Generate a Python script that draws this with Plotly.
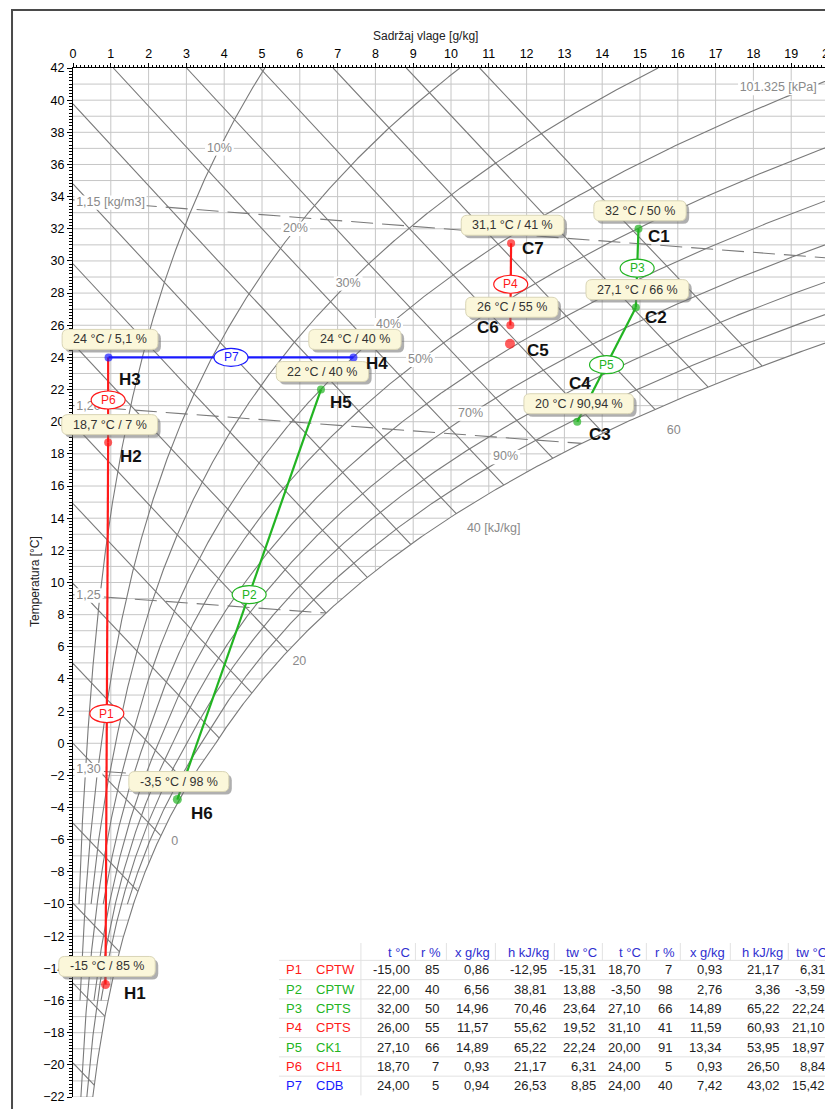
import numpy as np
import plotly.graph_objects as go

# ============================ DATA ============================
pressure_kpa = 101.325
x_range = [0, 20]          # moisture content g/kg
t_range = [-22, 42]        # temperature °C

rh_levels = [10, 20, 30, 40, 50, 60, 70, 80, 90, 100]
rh_lowest_temp = [-10, -16, -10, -22, -10, -16, -22, -16, -10, -22]
rh_label_levels = [10, 20, 30, 40, 50, 70, 90]
rh_label_temps = [37.0, 32.0, 28.6, 26.0, 23.85, 20.5, 17.8]

h_levels = list(range(-20, 75, 5))
h_label_levels = [0, 20, 40, 60]
h_label_texts = ["0", "20", "40 [kJ/kg]", "60"]

rho_levels = [1.15, 1.20, 1.25, 1.30]
rho_label_texts = ["1,15 [kg/m3]", "1,20", "1,25", "1,30"]

pressure_label = "101.325 [kPa]"

proc_names = ["P1", "P2", "P3", "P4", "P5", "P6", "P7"]
proc_types = ["CPTW", "CPTW", "CPTS", "CPTS", "CK1", "CH1", "CDB"]
t_start = [-15.00, 22.00, 32.00, 26.00, 27.10, 18.70, 24.00]
r_start = [85, 40, 50, 55, 66, 7, 5]
x_start = [0.86, 6.56, 14.96, 11.57, 14.89, 0.93, 0.94]
h_start = [-12.95, 38.81, 70.46, 55.62, 65.22, 21.17, 26.53]
tw_start = [-15.31, 13.88, 23.64, 19.52, 22.24, 6.31, 8.85]
t_end = [18.70, -3.50, 27.10, 31.10, 20.00, 24.00, 24.00]
r_end = [7, 98, 66, 41, 91, 5, 40]
x_end = [0.93, 2.76, 14.89, 11.59, 13.34, 0.93, 7.42]
h_end = [21.17, 3.36, 65.22, 60.93, 53.95, 26.50, 43.02]
tw_end = [6.31, -3.59, 22.24, 21.10, 18.97, 8.84, 15.42]

point_names = ["H1", "H2", "H3", "H4", "H5", "H6", "C1", "C2", "C3", "C4", "C5", "C6", "C7"]
point_x = [0.86, 0.93, 0.94, 7.42, 6.56, 2.76, 14.96, 14.89, 13.34, 13.30, 11.56, 11.57, 11.59]
point_t = [-15.0, 18.7, 24.0, 24.0, 22.0, -3.5, 32.0, 27.1, 20.0, 21.1, 24.85, 26.0, 31.1]
point_info = ["-15 °C / 85 %", "18,7 °C / 7 %", "24 °C / 5,1 %", "24 °C / 40 %",
              "22 °C / 40 %", "-3,5 °C / 98 %", "32 °C / 50 %", "27,1 °C / 66 %",
              "20 °C / 90,94 %", "", "", "26 °C / 55 %", "31,1 °C / 41 %"]

table_headers = ["t °C", "r %", "x g/kg", "h kJ/kg", "tw °C",
                 "t °C", "r %", "x g/kg", "h kJ/kg", "tw °C"]

x_title = "Sadržaj vlage [g/kg]"
y_title = "Temperatura [°C]"

# ============================ STYLE ============================
OFF = 8                      # page body margin of the rendered html
SX = 0.9905                  # horizontal scale observed in the captured page
SY = 0.9975                  # vertical scale observed in the captured page


def fx(px):                  # screenshot x pixel -> figure x pixel
    return px / SX - OFF


def fy(py):                  # screenshot y pixel -> figure y pixel
    return py / SY - OFF


W, H = 833, 1101
ML, MT = fx(72), fy(68)
PLOT_RIGHT, PLOT_BOTTOM = fx(828.2), fy(1097)
MR, MB = W - PLOT_RIGHT, H - PLOT_BOTTOM
PW, PH = W - ML - MR, H - MT - MB
KX = PW / (x_range[1] - x_range[0])   # px per g/kg
KY = PH / (t_range[1] - t_range[0])   # px per °C
FONT = "Liberation Sans"
RED, GREEN, BLUE = "#ff1a1a", "#22b422", "#1a1aff"
GRID = "#c6c6c6"
CURVE = "#7a7a7a"
LABEL_GRAY = "#8a8a8a"
proc_colors = [RED, GREEN, GREEN, RED, GREEN, RED, BLUE]
point_colors = [RED, RED, BLUE, BLUE, GREEN, GREEN, GREEN, GREEN, GREEN, GREEN, RED, RED, RED]
point_sizes = [9, 8, 8, 8, 8, 9, 8, 8, 8, 9, 10, 8, 8]
point_label_shift = [(29, -9), (23, -14), (21, -22), (24, -6), (20, -13), (25, -14),
                     (21, -8), (20, -10), (23, -13), (4, 21), (28, -7), (-22, -2), (22, -5)]
rh_label_shift = [(0, 0)] * 7
h_label_shift = [(14, -6), (12, -11), (9, -15), (19, -22)]
h_label_anchor = ["center", "center", "left", "center"]

# ============================ PHYSICS ============================
def psat(t):
    t = np.asarray(t, float)
    return np.where(t >= 0,
                    0.61094 * np.exp(17.625 * t / (t + 243.04)),
                    0.61115 * np.exp(22.452 * t / (272.55 + t)))


def x_of(t, phi):
    pv = phi * psat(t)
    return 622.0 * pv / (pressure_kpa - pv)


T_FINE = np.linspace(t_range[0] - 1, t_range[1] + 1, 3000)
XS_FINE = x_of(T_FINE, 1.0)


def t_dew(x):
    return np.interp(x, XS_FINE, T_FINE)


def t_h(h, x):
    return (h - 2.501 * x) / (1.006 + 0.00186 * x)


def t_rho(rho, x):
    xk = np.asarray(x, float) / 1000.0
    T = pressure_kpa * 1000 * (1 + xk) / (287.05 * rho * (1 + 1.6078 * xk))
    return T - 273.15


def text_w(s, size):
    wid = {" ": .278, "%": .889, ",": .278, ".": .278, "[": .278, "]": .278, "/": .278,
           "k": .5, "m": .833, "J": .5, "P": .667, "a": .556, "°": .4, "C": .722,
           "-": .333, "g": .556, "x": .5, "h": .556, "r": .333, "t": .278, "w": .722}
    return sum(wid.get(c, .556) for c in s) * size


fig = go.Figure()


def add_lines(segs, color, width, dash=None):
    X, Y = [], []
    for xs, ts in segs:
        X += list(np.round(xs, 4)) + [None]
        Y += list(np.round(ts, 4)) + [None]
    fig.add_trace(go.Scatter(x=X, y=Y, mode="lines",
                             line=dict(color=color, width=width, dash=dash),
                             hoverinfo="skip", showlegend=False))


# ---- grid clipped to the unsaturated region ----
grid = []
for k in range(1, 21):
    td = float(t_dew(k))
    if td < t_range[1]:
        grid.append(([k, k], [max(td, t_range[0]), t_range[1]]))
for tt in range(t_range[0], t_range[1]):
    xe = min(float(x_of(tt, 1.0)), x_range[1])
    grid.append(([0, xe], [tt, tt]))
add_lines(grid, GRID, 1)

# ---- relative humidity curves ----
rh_segs = []
for phi, tlow in zip(rh_levels, rh_lowest_temp):
    t_arr = np.linspace(tlow, t_range[1], 900)
    xs = x_of(t_arr, phi / 100.0)
    n = int(np.searchsorted(xs, x_range[1])) + 1
    rh_segs.append((xs[:n], t_arr[:n]))
add_lines(rh_segs, CURVE, 1.1)

# ---- isenthalps ----
x_arr = np.linspace(0, 20, 2001)
h_ends = {}
h_segs = []
for h in h_levels:
    diff = t_h(h, x_arr) - t_dew(x_arr)
    xe = 20.0 if diff[-1] > 0 else float(np.interp(0, diff[::-1], x_arr[::-1]))
    x0 = max(0.0, (h - 1.006 * t_range[1]) / (2.501 + 0.00186 * t_range[1]))
    if x0 >= xe:
        continue
    xs = np.linspace(x0, xe, 80)
    h_segs.append((xs, t_h(h, xs)))
    h_ends[h] = (xe, float(t_h(h, xe)))
add_lines(h_segs, CURVE, 1.1)

# ---- density lines ----
rho_segs = []
for rho in rho_levels:
    diff = t_rho(rho, x_arr) - t_dew(x_arr)
    xe = 20.0 if diff[-1] > 0 else float(np.interp(0, diff[::-1], x_arr[::-1]))
    xs = np.linspace(0, xe, 80)
    rho_segs.append((xs, t_rho(rho, xs)))
add_lines(rho_segs, CURVE, 1.1, dash="22px,9px")


# ---- gray chart labels (trace text with white background) ----
def add_label(x, t, text, size=12.5, color=LABEL_GRAY, anchor="center", dx=0, dy=0, bg=True):
    w = text_w(text, size) + 4
    hh = size + 2
    off = {"left": w / 2, "right": -w / 2}.get(anchor, 0)
    cx = x + (dx + off) / KX
    ct = t + dy / KY
    if bg:
        hw, hv = w / 2 / KX, hh / 2 / KY
        fig.add_trace(go.Scatter(x=[cx - hw, cx + hw, cx + hw, cx - hw, cx - hw],
                                 y=[ct - hv, ct - hv, ct + hv, ct + hv, ct - hv],
                                 fill="toself", fillcolor="white", mode="lines",
                                 line=dict(width=0, color="white"),
                                 hoverinfo="skip", showlegend=False))
    fig.add_trace(go.Scatter(x=[cx], y=[ct], mode="text", text=[text],
                             textposition="middle center", cliponaxis=False,
                             textfont=dict(size=size, color=color, family=FONT),
                             hoverinfo="skip", showlegend=False))


for lvl, tl, (dx, dy) in zip(rh_label_levels, rh_label_temps, rh_label_shift):
    add_label(float(x_of(tl, lvl / 100.0)), tl, f"{lvl}%", dx=dx, dy=dy)

for lvl, txt, (dx, dy), anc in zip(h_label_levels, h_label_texts, h_label_shift, h_label_anchor):
    xe, te = h_ends[lvl]
    add_label(xe, te, txt, anchor=anc, dx=dx, dy=dy, bg=False)

for i, (rho, txt) in enumerate(zip(rho_levels, rho_label_texts)):
    xl = 0.9 if i == 0 else 0.3
    add_label(0.04, float(t_rho(rho, xl)), txt, anchor="left", size=12.5)

add_label(19.72, 40.75, pressure_label, anchor="right", size=12.5)

# ---- process lines ----
for i in range(len(proc_names)):
    fig.add_trace(go.Scatter(x=[x_start[i], x_end[i]], y=[t_start[i], t_end[i]],
                             mode="lines", line=dict(color=proc_colors[i], width=2.2),
                             hoverinfo="skip", showlegend=False))

# ---- state points ----
fig.add_trace(go.Scatter(x=point_x, y=point_t, mode="markers",
                         marker=dict(color=point_colors, size=point_sizes,
                                     line=dict(width=0)),
                         hoverinfo="skip", showlegend=False))

shapes, annotations = [], []


def px_x(v):
    return (v - x_range[0]) / (x_range[1] - x_range[0])


def px_t(v):
    return (v - t_range[0]) / (t_range[1] - t_range[0])


def rrect(cx, cy, w, h, r):
    x0, x1, y0, y1 = cx - w / 2, cx + w / 2, cy - h / 2, cy + h / 2
    return (f"M {x0+r},{y0} L {x1-r},{y0} Q {x1},{y0} {x1},{y0+r} L {x1},{y1-r} "
            f"Q {x1},{y1} {x1-r},{y1} L {x0+r},{y1} Q {x0},{y1} {x0},{y1-r} "
            f"L {x0},{y0+r} Q {x0},{y0} {x0+r},{y0} Z")


# ---- info boxes ----
BOX_DX, BOX_DY = 1.5, 18
for xp, tp, txt in zip(point_x, point_t, point_info):
    if not txt:
        continue
    bw = text_w(txt, 12.5) + 22
    bh = 20
    for (ox, oy, fill, lc) in [(3, -3, "rgba(110,110,110,0.55)", "rgba(0,0,0,0)"),
                               (0, 0, "#fbf7da", "#d9d5b6")]:
        shapes.append(dict(type="path", xref="paper", yref="paper",
                           xsizemode="pixel", ysizemode="pixel",
                           xanchor=px_x(xp), yanchor=px_t(tp),
                           path=rrect(BOX_DX + ox, BOX_DY + oy, bw, bh, 6),
                           fillcolor=fill, line=dict(color=lc, width=1), layer="above"))
    annotations.append(dict(x=xp, y=tp, xref="x", yref="y", text=txt, showarrow=False,
                            xshift=BOX_DX, yshift=BOX_DY, xanchor="center", yanchor="middle",
                            font=dict(size=12.5, color="#333333", family=FONT)))

# ---- process ellipse labels ----
for i, nm in enumerate(proc_names):
    xm = (x_start[i] + x_end[i]) / 2
    tm = (t_start[i] + t_end[i]) / 2
    shapes.append(dict(type="circle", xref="paper", yref="paper",
                       xsizemode="pixel", ysizemode="pixel",
                       xanchor=px_x(xm), yanchor=px_t(tm),
                       x0=-17, x1=17, y0=-9, y1=9,
                       fillcolor="white", line=dict(color=proc_colors[i], width=1.2),
                       layer="above"))
    annotations.append(dict(x=xm, y=tm, xref="x", yref="y", text=nm, showarrow=False,
                            xanchor="center", yanchor="middle",
                            font=dict(size=12, color=proc_colors[i], family=FONT)))

# ---- point name labels ----
for nm, xp, tp, (dx, dy) in zip(point_names, point_x, point_t, point_label_shift):
    annotations.append(dict(x=xp, y=tp, xref="x", yref="y", text=f"<b>{nm}</b>",
                            showarrow=False, xshift=dx, yshift=dy,
                            xanchor="center", yanchor="middle",
                            font=dict(size=17, color="#111111", family=FONT)))


# ---- table (positions in screenshot pixels) ----
def pp_x(px):
    return (fx(px) - ML) / PW


def pp_y(py):
    return (H - MB - fy(py)) / PH


col_right = [411, 440, 490, 548, 597, 642, 673, 723, 781, 826]
head_right = [411, 442, 491, 550, 598, 642, 676, 726, 784, 828]
head_y = 953
row_y0, row_dy = 970, 19.3
HEAD_COLOR = "#3030d0"


def fmt(v):
    return f"{v:.2f}".replace(".", ",")


for hx, txt in zip(head_right, table_headers):
    annotations.append(dict(x=pp_x(hx), y=pp_y(head_y), xref="paper", yref="paper",
                            text=txt, showarrow=False, xanchor="right", yanchor="middle",
                            font=dict(size=13, color=HEAD_COLOR, family=FONT)))
for i in range(len(proc_names)):
    y = pp_y(row_y0 + i * row_dy)
    vals = [fmt(t_start[i]), str(r_start[i]), fmt(x_start[i]), fmt(h_start[i]), fmt(tw_start[i]),
            fmt(t_end[i]), str(r_end[i]), fmt(x_end[i]), fmt(h_end[i]), fmt(tw_end[i])]
    annotations.append(dict(x=pp_x(283), y=y, xref="paper", yref="paper", text=proc_names[i],
                            showarrow=False, xanchor="left", yanchor="middle",
                            font=dict(size=13, color=proc_colors[i], family=FONT)))
    annotations.append(dict(x=pp_x(313), y=y, xref="paper", yref="paper", text=proc_types[i],
                            showarrow=False, xanchor="left", yanchor="middle",
                            font=dict(size=13, color=proc_colors[i], family=FONT)))
    for cx, v in zip(col_right, vals):
        annotations.append(dict(x=pp_x(cx), y=y, xref="paper", yref="paper", text=v,
                                showarrow=False, xanchor="right", yanchor="middle",
                                font=dict(size=13, color="#1e1e1e", family=FONT)))

SEP = "#e2e2e2"
for i in range(len(proc_names)):
    yy = pp_y(row_y0 - row_dy / 2 + i * row_dy)
    shapes.append(dict(type="line", xref="paper", yref="paper", x0=pp_x(278), x1=pp_x(833),
                       y0=yy, y1=yy, line=dict(color=SEP, width=1), layer="above"))
shapes.append(dict(type="line", xref="paper", yref="paper", x0=pp_x(360), x1=pp_x(360),
                   y0=pp_y(943), y1=pp_y(row_y0 + 6.5 * row_dy),
                   line=dict(color=SEP, width=1), layer="above"))
for hx in head_right[:-1]:
    shapes.append(dict(type="line", xref="paper", yref="paper", x0=pp_x(hx + 3.5), x1=pp_x(hx + 3.5),
                       y0=pp_y(943), y1=pp_y(row_y0 - row_dy / 2),
                       line=dict(color=SEP, width=1), layer="above"))

# ---- outer frame ----
shapes.append(dict(type="line", xref="paper", yref="paper", x0=pp_x(11), x1=pp_x(11),
                   y0=pp_y(10), y1=pp_y(1130), line=dict(color="#4a4a4a", width=2)))
shapes.append(dict(type="line", xref="paper", yref="paper", x0=pp_x(10), x1=pp_x(850),
                   y0=pp_y(10), y1=pp_y(10), line=dict(color="#4a4a4a", width=2)))

# ---- axis titles ----
annotations.append(dict(x=pp_x(425), y=pp_y(36), xref="paper", yref="paper", text=x_title,
                        showarrow=False, xanchor="center", yanchor="middle",
                        font=dict(size=12, color="#222222", family=FONT)))
annotations.append(dict(x=pp_x(34), y=pp_y(582), xref="paper", yref="paper", text=y_title,
                        showarrow=False, textangle=-90, xanchor="center", yanchor="middle",
                        font=dict(size=12, color="#222222", family=FONT)))

fig.update_layout(
    width=W, height=H, margin=dict(l=ML, r=MR, t=MT, b=MB, pad=0),
    paper_bgcolor="white", plot_bgcolor="white",
    font=dict(family=FONT, size=12, color="black"),
    shapes=shapes, annotations=annotations, showlegend=False,
    xaxis=dict(range=x_range, side="top", dtick=1, tick0=0, ticks="outside", ticklen=4,
               tickcolor="black", showline=True, linecolor="black", linewidth=1,
               showgrid=False, zeroline=False, tickfont=dict(size=12.5, color="black"),
               ticklabeloverflow="allow",
               minor=dict(dtick=0.1, ticks="outside", ticklen=2, tickcolor="black", showgrid=False),
               fixedrange=True),
    yaxis=dict(range=t_range, dtick=2, tick0=0, ticks="outside", ticklen=5,
               tickcolor="black", showline=True, linecolor="black", linewidth=1,
               showgrid=False, zeroline=False, tickfont=dict(size=12.5, color="black"),
               minor=dict(dtick=0.2, ticks="outside", ticklen=3, tickcolor="black", showgrid=False),
               fixedrange=True),
)

fig.write_html("out.html")
